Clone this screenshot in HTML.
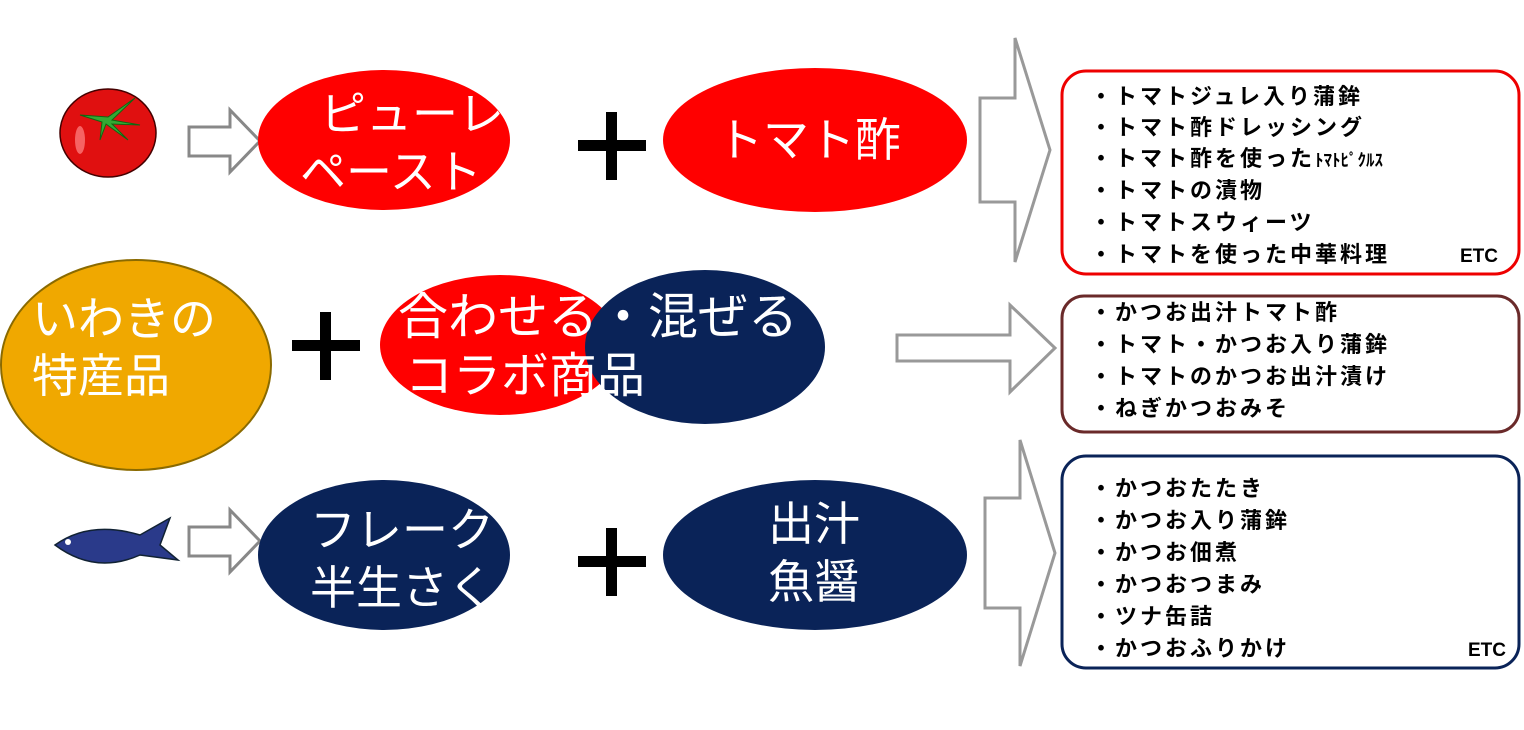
<!DOCTYPE html>
<html><head><meta charset="utf-8"><style>
body{margin:0;background:#fff;}
svg text{font-family:"Liberation Sans","Noto Sans CJK JP",sans-serif;}
.w{fill:#fff;font-size:46px;}
.l{font-size:22px;font-weight:bold;fill:#000;letter-spacing:3px;}
</style></head><body>
<svg width="1524" height="725" viewBox="0 0 1524 725" xmlns="http://www.w3.org/2000/svg">
<ellipse cx="108" cy="133" rx="48" ry="44" fill="#e01010" stroke="#400" stroke-width="1.5"/>
<ellipse cx="80" cy="140" rx="5" ry="14" fill="#f88" opacity=".7"/>
<path d="M80 115 L108 117 L135 98 L112 120 L140 125 L112 124 L128 140 L106 124 L100 140 L102 122 Z" fill="#3a3" stroke="#161" stroke-width="1"/>
<path d="M189 127 H230 V110 L260 141 L230 172 V156 H189 Z" fill="#fff" stroke="#888" stroke-width="3"/>
<path d="M189 527 H230 V510 L260 541 L230 572 V556 H189 Z" fill="#fff" stroke="#888" stroke-width="3"/>
<ellipse cx="384" cy="140" rx="126" ry="70" fill="#f00"/>
<text class="w" x="320" y="130">ピューレ</text>
<text class="w" x="300" y="188">ペースト</text>
<rect x="578" y="140" width="68" height="11" fill="#000"/><rect x="606" y="112" width="11" height="68" fill="#000"/>
<ellipse cx="815" cy="140" rx="152" ry="72" fill="#f00"/>
<text class="w" x="717" y="156">トマト酢</text>
<path d="M980 98 H1015 V38 L1050 150 L1015 262 V202 H980 Z" fill="#fff" stroke="#999" stroke-width="3"/>
<rect x="1062" y="71" width="457" height="203" rx="24" fill="#fff" stroke="#e00" stroke-width="3"/>
<text class="l" x="1090" y="104">・トマトジュレ入り蒲鉾</text>
<text class="l" x="1090" y="135">・トマト酢ドレッシング</text>
<text class="l" x="1090" y="166">・トマト酢を使った<tspan style="font-size:17px;letter-spacing:0">ﾄﾏﾄﾋﾟｸﾙｽ</tspan></text>
<text class="l" x="1090" y="198">・トマトの漬物</text>
<text class="l" x="1090" y="230">・トマトスウィーツ</text>
<text class="l" x="1090" y="262">・トマトを使った中華料理</text>
<text class="l" x="1460" y="262" style="font-size:19px;letter-spacing:0">ETC</text>
<ellipse cx="136" cy="365" rx="135" ry="105" fill="#f0a800" stroke="#8a6a00" stroke-width="2"/>
<text class="w" x="32" y="335">いわきの</text>
<text class="w" x="32" y="392">特産品</text>
<rect x="292" y="340" width="68" height="11" fill="#000"/><rect x="320" y="312" width="11" height="68" fill="#000"/>
<ellipse cx="500" cy="345" rx="120" ry="70" fill="#f00"/>
<ellipse cx="705" cy="347" rx="120" ry="77" fill="#0a2358"/>
<text class="w" x="398" y="334" style="font-size:50px">合わせる・混ぜる</text>
<text class="w" x="405" y="392" style="font-size:48px">コラボ商品</text>
<path d="M897 335 H1010 V305 L1055 348 L1010 392 V361 H897 Z" fill="#fff" stroke="#999" stroke-width="3"/>
<rect x="1062" y="296" width="457" height="136" rx="22" fill="#fff" stroke="#6a2a2a" stroke-width="3"/>
<text class="l" x="1090" y="320">・かつお出汁トマト酢</text>
<text class="l" x="1090" y="352">・トマト・かつお入り蒲鉾</text>
<text class="l" x="1090" y="384">・トマトのかつお出汁漬け</text>
<text class="l" x="1090" y="416">・ねぎかつおみそ</text>
<path d="M55 545 Q90 520 140 535 L170 518 L160 545 L178 560 L140 555 Q95 575 55 545 Z" fill="#2a3a8a" stroke="#123" stroke-width="1.5"/>
<circle cx="68" cy="542" r="3" fill="#fff"/>
<ellipse cx="384" cy="555" rx="126" ry="75" fill="#0a2358"/>
<text class="w" x="310" y="546">フレーク</text>
<text class="w" x="310" y="604">半生さく</text>
<rect x="578" y="556" width="68" height="11" fill="#000"/><rect x="606" y="528" width="11" height="68" fill="#000"/>
<ellipse cx="815" cy="555" rx="152" ry="75" fill="#0a2358"/>
<text class="w" x="768" y="540">出汁</text>
<text class="w" x="768" y="598">魚醤</text>
<path d="M985 498 H1020 V440 L1055 553 L1020 666 V608 H985 Z" fill="#fff" stroke="#999" stroke-width="3"/>
<rect x="1062" y="456" width="457" height="212" rx="24" fill="#fff" stroke="#0a2358" stroke-width="3"/>
<text class="l" x="1090" y="496">・かつおたたき</text>
<text class="l" x="1090" y="528">・かつお入り蒲鉾</text>
<text class="l" x="1090" y="560">・かつお佃煮</text>
<text class="l" x="1090" y="592">・かつおつまみ</text>
<text class="l" x="1090" y="624">・ツナ缶詰</text>
<text class="l" x="1090" y="656">・かつおふりかけ</text>
<text class="l" x="1468" y="656" style="font-size:19px;letter-spacing:0">ETC</text>
</svg>
</body></html>
